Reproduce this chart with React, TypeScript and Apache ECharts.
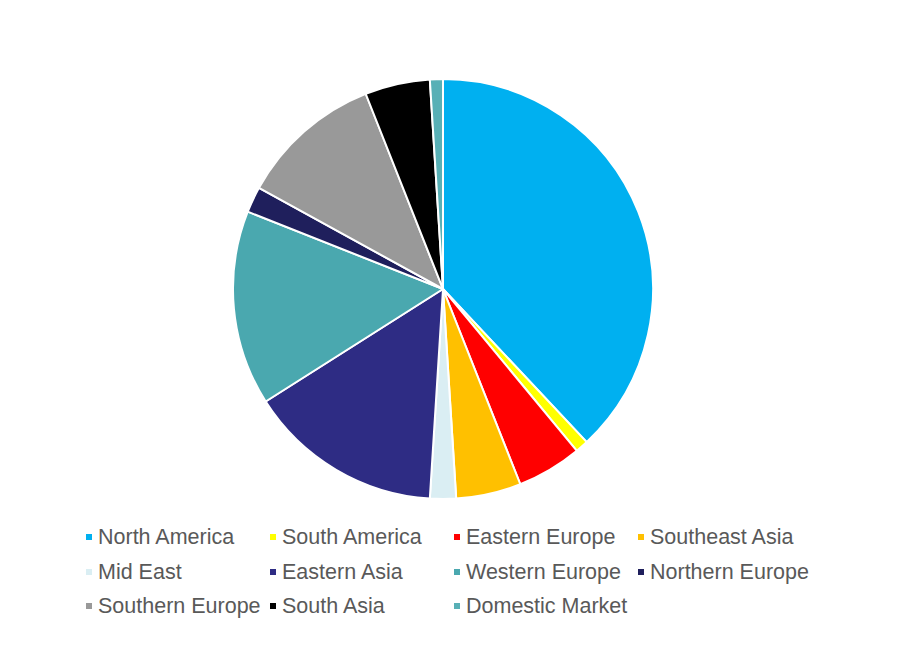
import React, { useEffect, useRef } from "react";
import * as echarts from "echarts";

const categories = [
  "North America",
  "South America",
  "Eastern Europe",
  "Southeast Asia",
  "Mid East",
  "Eastern Asia",
  "Western Europe",
  "Northern Europe",
  "Southern Europe",
  "South Asia",
  "Domestic Market",
];
const values = [38, 1, 5, 5, 2, 15, 15, 2, 11, 5, 1];
const colors = [
  "#00B0F0",
  "#FFFF00",
  "#FF0000",
  "#FFC000",
  "#DAEEF3",
  "#2E2C84",
  "#4AA8AF",
  "#1F1F5C",
  "#999999",
  "#000000",
  "#58B0B6",
];

const colX = [84, 268, 452, 636];
const rowY = [537, 572, 606];

export default function App() {
  const ref = useRef<HTMLDivElement>(null);
  useEffect(() => {
    const chart = echarts.init(ref.current!, null, { renderer: "svg" });
    const legends = categories.map((c, i) => ({
      data: [c],
      left: colX[i % 4],
      top: rowY[Math.floor(i / 4)] - 11,
      icon: "rect",
      itemWidth: 8,
      itemHeight: 8,
      itemGap: 0,
      selectedMode: false,
      padding: 0,
      textStyle: {
        fontFamily: "Liberation Sans, Arial, sans-serif",
        fontSize: 21.5,
        color: "#595959",
        padding: [0, 0, 0, 0],
      },
    }));
    chart.setOption({
      animation: false,
      backgroundColor: "#ffffff",
      legend: legends,
      series: [
        {
          type: "pie",
          center: [443, 289],
          radius: [0, 210],
          startAngle: 90,
          clockwise: true,
          label: { show: false },
          labelLine: { show: false },
          emphasis: { disabled: true },
          itemStyle: { borderColor: "#ffffff", borderWidth: 2 },
          data: categories.map((c, i) => ({
            name: c,
            value: values[i],
            itemStyle: { color: colors[i] },
          })),
        },
      ],
    });
    return () => chart.dispose();
  }, []);
  return (
    <div
      ref={ref}
      style={{ position: "fixed", left: 0, top: 0, width: 909, height: 654 }}
    />
  );
}
